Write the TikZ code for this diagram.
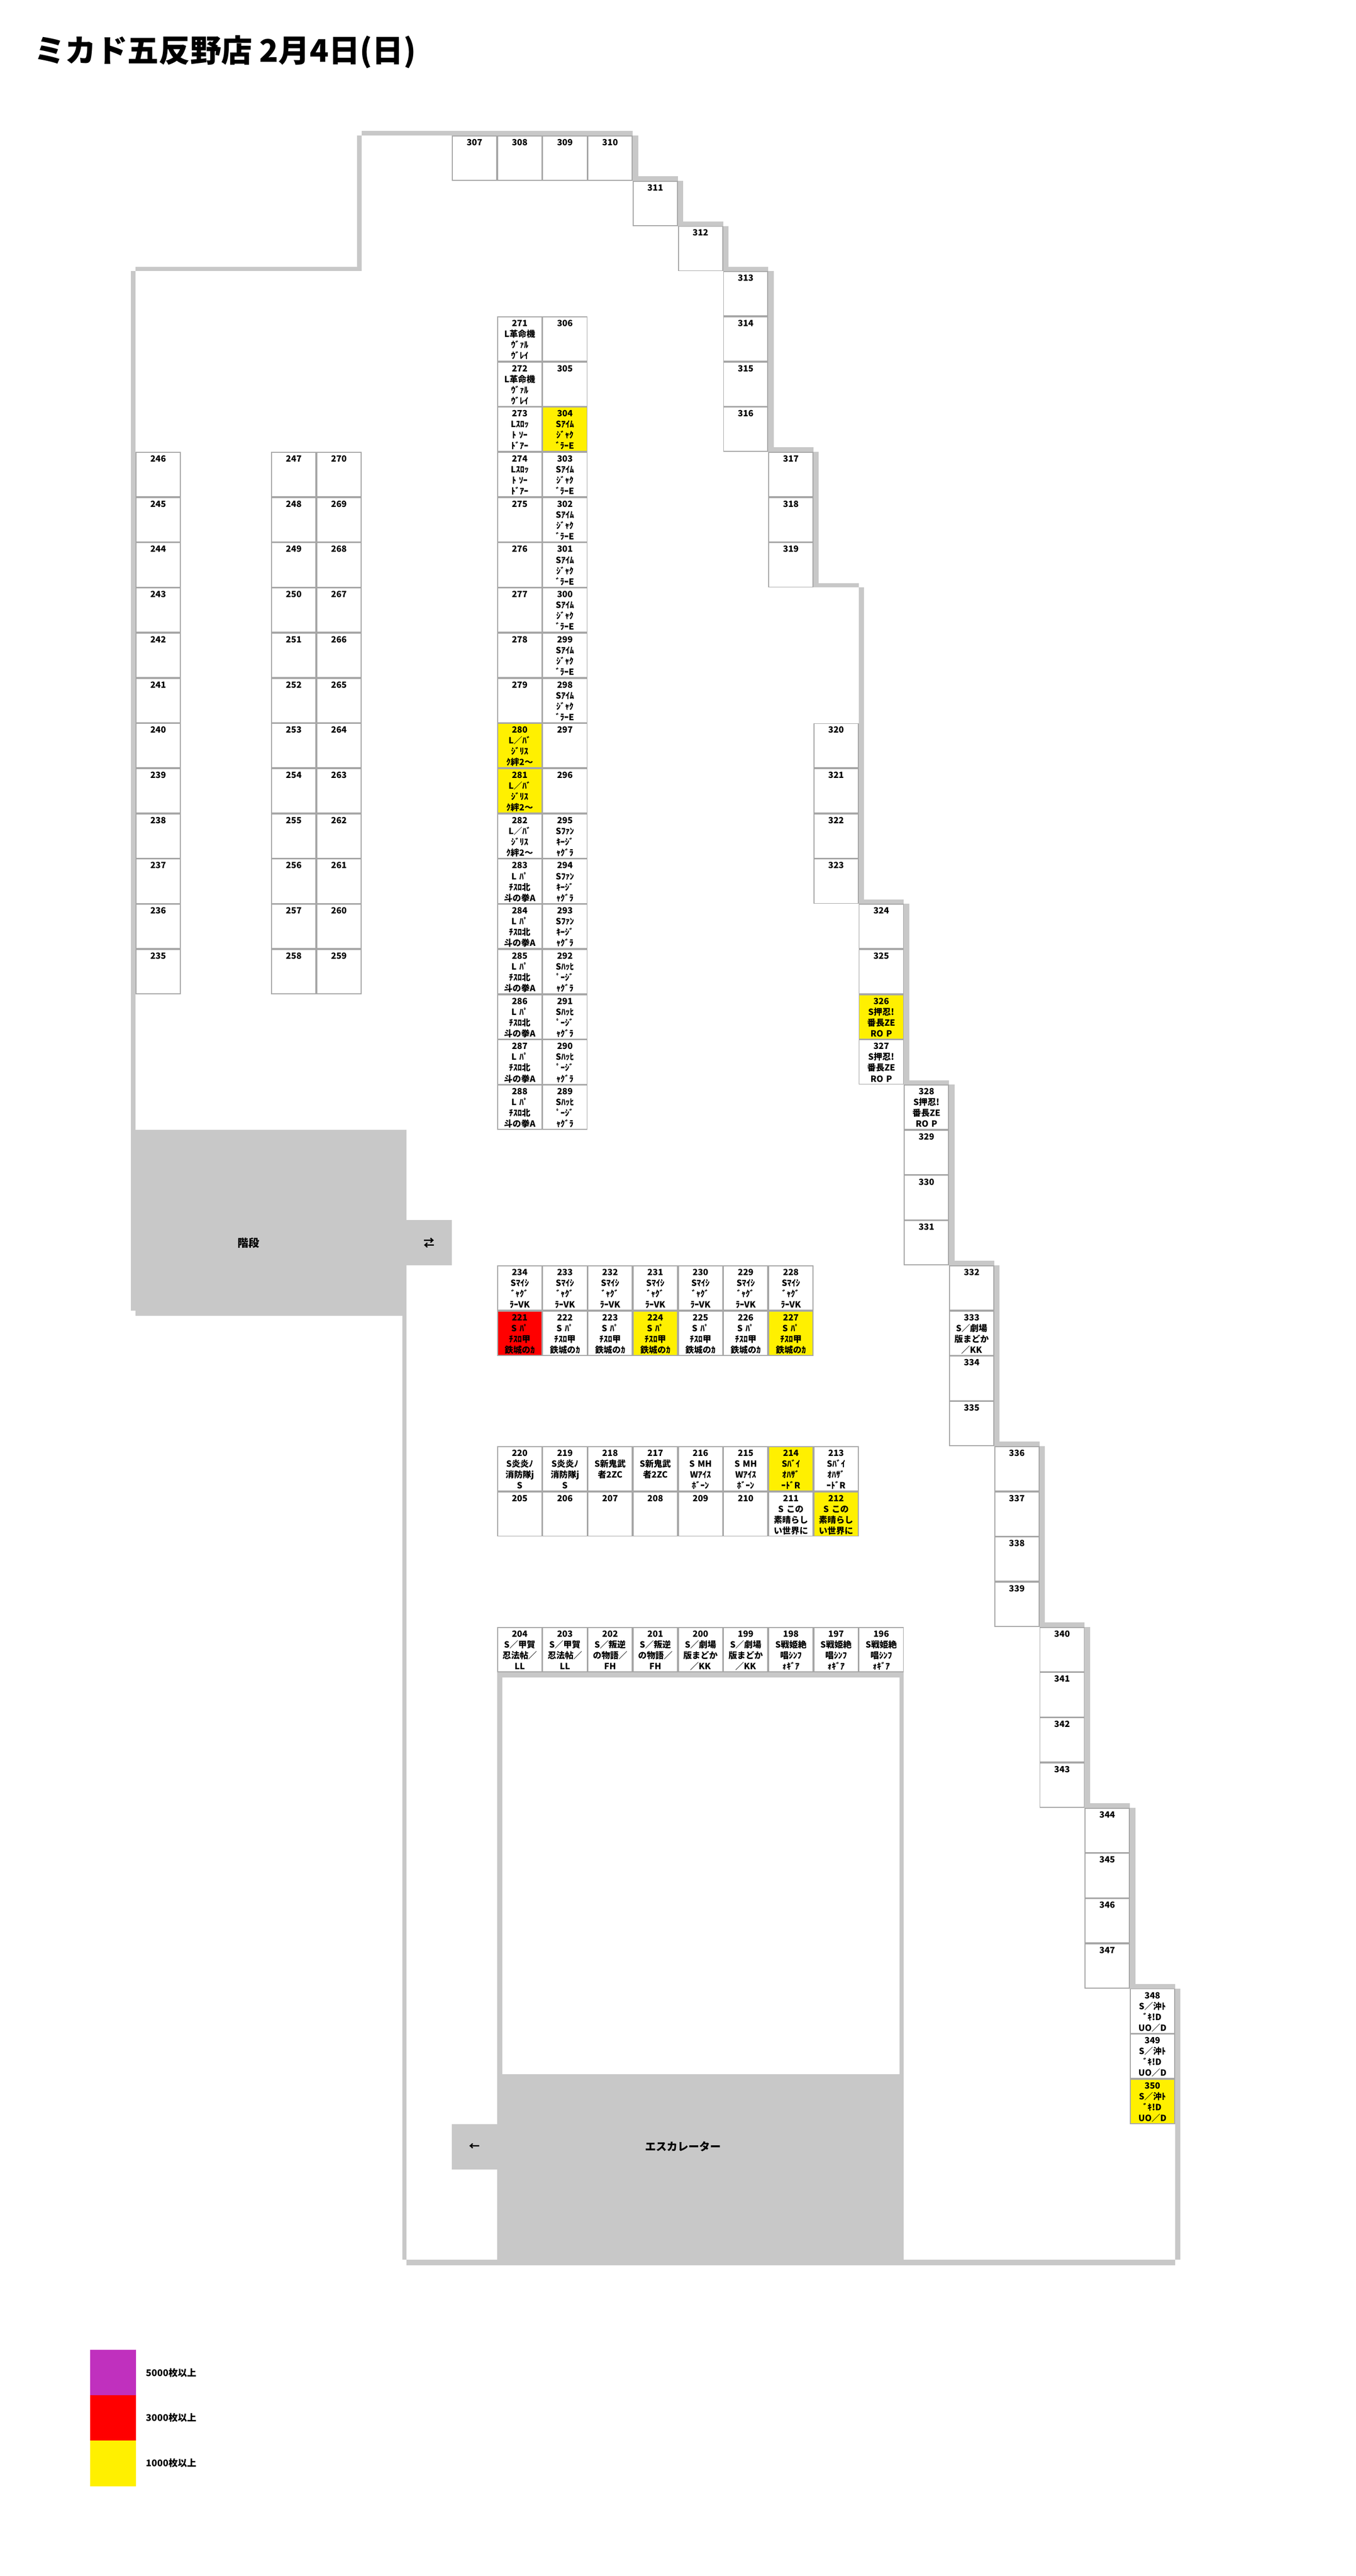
\documentclass[tikz,border=0pt]{standalone}
\usepackage{fontspec}
\setmainfont{Noto Sans CJK JP}
\definecolor{wallgray}{HTML}{C8C8C8}
\definecolor{linegray}{HTML}{A6A6A6}
\definecolor{hityellow}{HTML}{FFF000}
\definecolor{hitpurple}{HTML}{C030BE}

\begin{document}
\begin{tikzpicture}
	\tikzstyle{stall} = [draw = linegray, line width = 0.02cm, minimum width = 0.98cm, minimum height = 0.98cm, inner sep = 0, text width = 0.98cm, align = center, text height = 0.21cm, text depth = 0.77cm, font = \fontsize{0.19cm}{0.24cm}\selectfont\bfseries]
	\tikzstyle{hit} = [stall, fill = hityellow]
	\tikzstyle{hot} = [stall, fill = red]
	\tikzstyle{wall} = [fill = wallgray]
	\tikzstyle{place} = [inner sep = 0, font = \fontsize{0.24cm}{0.28cm}\selectfont\bfseries]
	\tikzstyle{legend} = [inner sep = 0, anchor = west, font = \fontsize{0.205cm}{0.25cm}\selectfont\bfseries]

	\useasboundingbox (0, 0) rectangle (30, -57);

	\path[wall] (8, -2.9) rectangle (14, -3);
	\path[wall] (7.9, -3) rectangle (8, -6);
	\path[wall] (3, -5.9) rectangle (8, -6);
	\path[wall] (2.9, -6) rectangle (3, -29);
	\path[wall] (3, -25) rectangle (9, -29);
	\path[wall] (3, -29) rectangle (8, -29.12);
	\path[wall] (8, -29) rectangle (9, -29.11);
	\path[wall] (9, -27) rectangle (10, -28);
	\path[wall] (8.9, -29) rectangle (9, -50);
	\path[wall] (9, -50) rectangle (26, -50.12);

	\path[wall] (14, -3) rectangle (14.12, -4);
	\path[wall] (14, -3.9) rectangle (15, -4);
	\path[wall] (15, -4) rectangle (15.12, -5);
	\path[wall] (15, -4.9) rectangle (16, -5);
	\path[wall] (16, -5) rectangle (16.12, -6);
	\path[wall] (16, -5.9) rectangle (17, -6);
	\path[wall] (17, -6) rectangle (17.12, -10);
	\path[wall] (17, -9.9) rectangle (18, -10);
	\path[wall] (18, -10) rectangle (18.12, -13);
	\path[wall] (18, -12.9) rectangle (19, -13);
	\path[wall] (19, -13) rectangle (19.12, -20);
	\path[wall] (19, -19.9) rectangle (20, -20);
	\path[wall] (20, -20) rectangle (20.12, -24);
	\path[wall] (20, -23.9) rectangle (21, -24);
	\path[wall] (21, -24) rectangle (21.12, -28);
	\path[wall] (21, -27.9) rectangle (22, -28);
	\path[wall] (22, -28) rectangle (22.12, -32);
	\path[wall] (22, -31.9) rectangle (23, -32);
	\path[wall] (23, -32) rectangle (23.12, -36);
	\path[wall] (23, -35.9) rectangle (24, -36);
	\path[wall] (24, -36) rectangle (24.12, -40);
	\path[wall] (24, -39.9) rectangle (25, -40);
	\path[wall] (25, -40) rectangle (25.12, -44);
	\path[wall] (25, -43.9) rectangle (26, -44);
	\path[wall] (26, -44) rectangle (26.12, -50);

	\path[wall] (11, -37) rectangle (20, -50);
	\path[fill = white] (11.12, -37.12) rectangle (19.9, -45.9);
	\path[wall] (10, -47) rectangle (11, -48);

\node[inner sep = 0, anchor = west, font = \fontsize{0.69cm}{0.8cm}\selectfont\bfseries] (title) at (0.75, -1.15) {ミカド五反野店 2月4日(日)};
\node[place] (stairs) at (5.5, -27.5) {階段};
\node[place] (stairsign) at (9.5, -27.5) {⇄};
\node[place] (escalator) at (15.12, -47.5) {エスカレーター};
\node[place] (escsign) at (10.5, -47.5) {←};

\node[stall] (307) at (10.5, -3.5) {307};
\node[stall] (308) at (11.5, -3.5) {308};
\node[stall] (309) at (12.5, -3.5) {309};
\node[stall] (310) at (13.5, -3.5) {310};
\node[stall] (311) at (14.5, -4.5) {311};
\node[stall] (312) at (15.5, -5.5) {312};
\node[stall] (313) at (16.5, -6.5) {313};
\node[stall] (314) at (16.5, -7.5) {314};
\node[stall] (315) at (16.5, -8.5) {315};
\node[stall] (316) at (16.5, -9.5) {316};
\node[stall] (317) at (17.5, -10.5) {317};
\node[stall] (318) at (17.5, -11.5) {318};
\node[stall] (319) at (17.5, -12.5) {319};
\node[stall] (320) at (18.5, -16.5) {320};
\node[stall] (321) at (18.5, -17.5) {321};
\node[stall] (322) at (18.5, -18.5) {322};
\node[stall] (323) at (18.5, -19.5) {323};
\node[stall] (324) at (19.5, -20.5) {324};
\node[stall] (325) at (19.5, -21.5) {325};
\node[hit] (326) at (19.5, -22.5) {326\\S押忍!\\番長ZE\\RO P};
\node[stall] (327) at (19.5, -23.5) {327\\S押忍!\\番長ZE\\RO P};
\node[stall] (328) at (20.5, -24.5) {328\\S押忍!\\番長ZE\\RO P};
\node[stall] (329) at (20.5, -25.5) {329};
\node[stall] (330) at (20.5, -26.5) {330};
\node[stall] (331) at (20.5, -27.5) {331};
\node[stall] (332) at (21.5, -28.5) {332};
\node[stall] (333) at (21.5, -29.5) {333\\S／劇場\\版まどか\\／KK};
\node[stall] (334) at (21.5, -30.5) {334};
\node[stall] (335) at (21.5, -31.5) {335};
\node[stall] (336) at (22.5, -32.5) {336};
\node[stall] (337) at (22.5, -33.5) {337};
\node[stall] (338) at (22.5, -34.5) {338};
\node[stall] (339) at (22.5, -35.5) {339};
\node[stall] (340) at (23.5, -36.5) {340};
\node[stall] (341) at (23.5, -37.5) {341};
\node[stall] (342) at (23.5, -38.5) {342};
\node[stall] (343) at (23.5, -39.5) {343};
\node[stall] (344) at (24.5, -40.5) {344};
\node[stall] (345) at (24.5, -41.5) {345};
\node[stall] (346) at (24.5, -42.5) {346};
\node[stall] (347) at (24.5, -43.5) {347};
\node[stall] (348) at (25.5, -44.5) {348\\S／沖ﾄ\\ﾞｷ!D\\UO／D};
\node[stall] (349) at (25.5, -45.5) {349\\S／沖ﾄ\\ﾞｷ!D\\UO／D};
\node[hit] (350) at (25.5, -46.5) {350\\S／沖ﾄ\\ﾞｷ!D\\UO／D};

\node[stall] (246) at (3.5, -10.5) {246};
\node[stall] (245) at (3.5, -11.5) {245};
\node[stall] (244) at (3.5, -12.5) {244};
\node[stall] (243) at (3.5, -13.5) {243};
\node[stall] (242) at (3.5, -14.5) {242};
\node[stall] (241) at (3.5, -15.5) {241};
\node[stall] (240) at (3.5, -16.5) {240};
\node[stall] (239) at (3.5, -17.5) {239};
\node[stall] (238) at (3.5, -18.5) {238};
\node[stall] (237) at (3.5, -19.5) {237};
\node[stall] (236) at (3.5, -20.5) {236};
\node[stall] (235) at (3.5, -21.5) {235};

\node[stall] (247) at (6.5, -10.5) {247};
\node[stall] (248) at (6.5, -11.5) {248};
\node[stall] (249) at (6.5, -12.5) {249};
\node[stall] (250) at (6.5, -13.5) {250};
\node[stall] (251) at (6.5, -14.5) {251};
\node[stall] (252) at (6.5, -15.5) {252};
\node[stall] (253) at (6.5, -16.5) {253};
\node[stall] (254) at (6.5, -17.5) {254};
\node[stall] (255) at (6.5, -18.5) {255};
\node[stall] (256) at (6.5, -19.5) {256};
\node[stall] (257) at (6.5, -20.5) {257};
\node[stall] (258) at (6.5, -21.5) {258};

\node[stall] (270) at (7.5, -10.5) {270};
\node[stall] (269) at (7.5, -11.5) {269};
\node[stall] (268) at (7.5, -12.5) {268};
\node[stall] (267) at (7.5, -13.5) {267};
\node[stall] (266) at (7.5, -14.5) {266};
\node[stall] (265) at (7.5, -15.5) {265};
\node[stall] (264) at (7.5, -16.5) {264};
\node[stall] (263) at (7.5, -17.5) {263};
\node[stall] (262) at (7.5, -18.5) {262};
\node[stall] (261) at (7.5, -19.5) {261};
\node[stall] (260) at (7.5, -20.5) {260};
\node[stall] (259) at (7.5, -21.5) {259};

\node[stall] (271) at (11.5, -7.5) {271\\L革命機\\ｳﾞｧﾙ\\ｳﾞﾚｲ};
\node[stall] (272) at (11.5, -8.5) {272\\L革命機\\ｳﾞｧﾙ\\ｳﾞﾚｲ};
\node[stall] (273) at (11.5, -9.5) {273\\Lｽﾛｯ\\ﾄ ｿｰ\\ﾄﾞｱｰ};
\node[stall] (274) at (11.5, -10.5) {274\\Lｽﾛｯ\\ﾄ ｿｰ\\ﾄﾞｱｰ};
\node[stall] (275) at (11.5, -11.5) {275};
\node[stall] (276) at (11.5, -12.5) {276};
\node[stall] (277) at (11.5, -13.5) {277};
\node[stall] (278) at (11.5, -14.5) {278};
\node[stall] (279) at (11.5, -15.5) {279};
\node[hit] (280) at (11.5, -16.5) {280\\L／ﾊﾞ\\ｼﾞﾘｽ\\ｸ絆2～};
\node[hit] (281) at (11.5, -17.5) {281\\L／ﾊﾞ\\ｼﾞﾘｽ\\ｸ絆2～};
\node[stall] (282) at (11.5, -18.5) {282\\L／ﾊﾞ\\ｼﾞﾘｽ\\ｸ絆2～};
\node[stall] (283) at (11.5, -19.5) {283\\L ﾊﾟ\\ﾁｽﾛ北\\斗の拳A};
\node[stall] (284) at (11.5, -20.5) {284\\L ﾊﾟ\\ﾁｽﾛ北\\斗の拳A};
\node[stall] (285) at (11.5, -21.5) {285\\L ﾊﾟ\\ﾁｽﾛ北\\斗の拳A};
\node[stall] (286) at (11.5, -22.5) {286\\L ﾊﾟ\\ﾁｽﾛ北\\斗の拳A};
\node[stall] (287) at (11.5, -23.5) {287\\L ﾊﾟ\\ﾁｽﾛ北\\斗の拳A};
\node[stall] (288) at (11.5, -24.5) {288\\L ﾊﾟ\\ﾁｽﾛ北\\斗の拳A};

\node[stall] (306) at (12.5, -7.5) {306};
\node[stall] (305) at (12.5, -8.5) {305};
\node[hit] (304) at (12.5, -9.5) {304\\Sｱｲﾑ\\ｼﾞｬｸ\\ﾞﾗｰE};
\node[stall] (303) at (12.5, -10.5) {303\\Sｱｲﾑ\\ｼﾞｬｸ\\ﾞﾗｰE};
\node[stall] (302) at (12.5, -11.5) {302\\Sｱｲﾑ\\ｼﾞｬｸ\\ﾞﾗｰE};
\node[stall] (301) at (12.5, -12.5) {301\\Sｱｲﾑ\\ｼﾞｬｸ\\ﾞﾗｰE};
\node[stall] (300) at (12.5, -13.5) {300\\Sｱｲﾑ\\ｼﾞｬｸ\\ﾞﾗｰE};
\node[stall] (299) at (12.5, -14.5) {299\\Sｱｲﾑ\\ｼﾞｬｸ\\ﾞﾗｰE};
\node[stall] (298) at (12.5, -15.5) {298\\Sｱｲﾑ\\ｼﾞｬｸ\\ﾞﾗｰE};
\node[stall] (297) at (12.5, -16.5) {297};
\node[stall] (296) at (12.5, -17.5) {296};
\node[stall] (295) at (12.5, -18.5) {295\\Sﾌｧﾝ\\ｷｰｼﾞ\\ｬｸﾞﾗ};
\node[stall] (294) at (12.5, -19.5) {294\\Sﾌｧﾝ\\ｷｰｼﾞ\\ｬｸﾞﾗ};
\node[stall] (293) at (12.5, -20.5) {293\\Sﾌｧﾝ\\ｷｰｼﾞ\\ｬｸﾞﾗ};
\node[stall] (292) at (12.5, -21.5) {292\\Sﾊｯﾋ\\ﾟｰｼﾞ\\ｬｸﾞﾗ};
\node[stall] (291) at (12.5, -22.5) {291\\Sﾊｯﾋ\\ﾟｰｼﾞ\\ｬｸﾞﾗ};
\node[stall] (290) at (12.5, -23.5) {290\\Sﾊｯﾋ\\ﾟｰｼﾞ\\ｬｸﾞﾗ};
\node[stall] (289) at (12.5, -24.5) {289\\Sﾊｯﾋ\\ﾟｰｼﾞ\\ｬｸﾞﾗ};

\node[stall] (234) at (11.5, -28.5) {234\\Sﾏｲｼ\\ﾞｬｸﾞ\\ﾗｰVK};
\node[stall] (233) at (12.5, -28.5) {233\\Sﾏｲｼ\\ﾞｬｸﾞ\\ﾗｰVK};
\node[stall] (232) at (13.5, -28.5) {232\\Sﾏｲｼ\\ﾞｬｸﾞ\\ﾗｰVK};
\node[stall] (231) at (14.5, -28.5) {231\\Sﾏｲｼ\\ﾞｬｸﾞ\\ﾗｰVK};
\node[stall] (230) at (15.5, -28.5) {230\\Sﾏｲｼ\\ﾞｬｸﾞ\\ﾗｰVK};
\node[stall] (229) at (16.5, -28.5) {229\\Sﾏｲｼ\\ﾞｬｸﾞ\\ﾗｰVK};
\node[stall] (228) at (17.5, -28.5) {228\\Sﾏｲｼ\\ﾞｬｸﾞ\\ﾗｰVK};
\node[hot] (221) at (11.5, -29.5) {221\\S ﾊﾟ\\ﾁｽﾛ甲\\鉄城のｶ};
\node[stall] (222) at (12.5, -29.5) {222\\S ﾊﾟ\\ﾁｽﾛ甲\\鉄城のｶ};
\node[stall] (223) at (13.5, -29.5) {223\\S ﾊﾟ\\ﾁｽﾛ甲\\鉄城のｶ};
\node[hit] (224) at (14.5, -29.5) {224\\S ﾊﾟ\\ﾁｽﾛ甲\\鉄城のｶ};
\node[stall] (225) at (15.5, -29.5) {225\\S ﾊﾟ\\ﾁｽﾛ甲\\鉄城のｶ};
\node[stall] (226) at (16.5, -29.5) {226\\S ﾊﾟ\\ﾁｽﾛ甲\\鉄城のｶ};
\node[hit] (227) at (17.5, -29.5) {227\\S ﾊﾟ\\ﾁｽﾛ甲\\鉄城のｶ};

\node[stall] (220) at (11.5, -32.5) {220\\S炎炎ﾉ\\消防隊j\\S};
\node[stall] (219) at (12.5, -32.5) {219\\S炎炎ﾉ\\消防隊j\\S};
\node[stall] (218) at (13.5, -32.5) {218\\S新鬼武\\者2ZC};
\node[stall] (217) at (14.5, -32.5) {217\\S新鬼武\\者2ZC};
\node[stall] (216) at (15.5, -32.5) {216\\S MH\\Wｱｲｽ\\ﾎﾞｰﾝ};
\node[stall] (215) at (16.5, -32.5) {215\\S MH\\Wｱｲｽ\\ﾎﾞｰﾝ};
\node[hit] (214) at (17.5, -32.5) {214\\Sﾊﾞｲ\\ｵﾊｻﾞ\\ｰﾄﾞR};
\node[stall] (213) at (18.5, -32.5) {213\\Sﾊﾞｲ\\ｵﾊｻﾞ\\ｰﾄﾞR};
\node[stall] (205) at (11.5, -33.5) {205};
\node[stall] (206) at (12.5, -33.5) {206};
\node[stall] (207) at (13.5, -33.5) {207};
\node[stall] (208) at (14.5, -33.5) {208};
\node[stall] (209) at (15.5, -33.5) {209};
\node[stall] (210) at (16.5, -33.5) {210};
\node[stall] (211) at (17.5, -33.5) {211\\S この\\素晴らし\\い世界に};
\node[hit] (212) at (18.5, -33.5) {212\\S この\\素晴らし\\い世界に};

\node[stall] (204) at (11.5, -36.5) {204\\S／甲賀\\忍法帖／\\LL};
\node[stall] (203) at (12.5, -36.5) {203\\S／甲賀\\忍法帖／\\LL};
\node[stall] (202) at (13.5, -36.5) {202\\S／叛逆\\の物語／\\FH};
\node[stall] (201) at (14.5, -36.5) {201\\S／叛逆\\の物語／\\FH};
\node[stall] (200) at (15.5, -36.5) {200\\S／劇場\\版まどか\\／KK};
\node[stall] (199) at (16.5, -36.5) {199\\S／劇場\\版まどか\\／KK};
\node[stall] (198) at (17.5, -36.5) {198\\S戦姫絶\\唱ｼﾝﾌ\\ｫｷﾞｱ};
\node[stall] (197) at (18.5, -36.5) {197\\S戦姫絶\\唱ｼﾝﾌ\\ｫｷﾞｱ};
\node[stall] (196) at (19.5, -36.5) {196\\S戦姫絶\\唱ｼﾝﾌ\\ｫｷﾞｱ};

	\path[fill = hitpurple] (2, -52) rectangle (3.01, -53);
	\path[fill = red] (2, -53) rectangle (3.01, -54);
	\path[fill = hityellow] (2, -54) rectangle (3.01, -55.01);
\node[legend] (over5000) at (3.23, -52.5) {5000枚以上};
\node[legend] (over3000) at (3.23, -53.5) {3000枚以上};
\node[legend] (over1000) at (3.23, -54.5) {1000枚以上};
	\end{tikzpicture}
\end{document}
